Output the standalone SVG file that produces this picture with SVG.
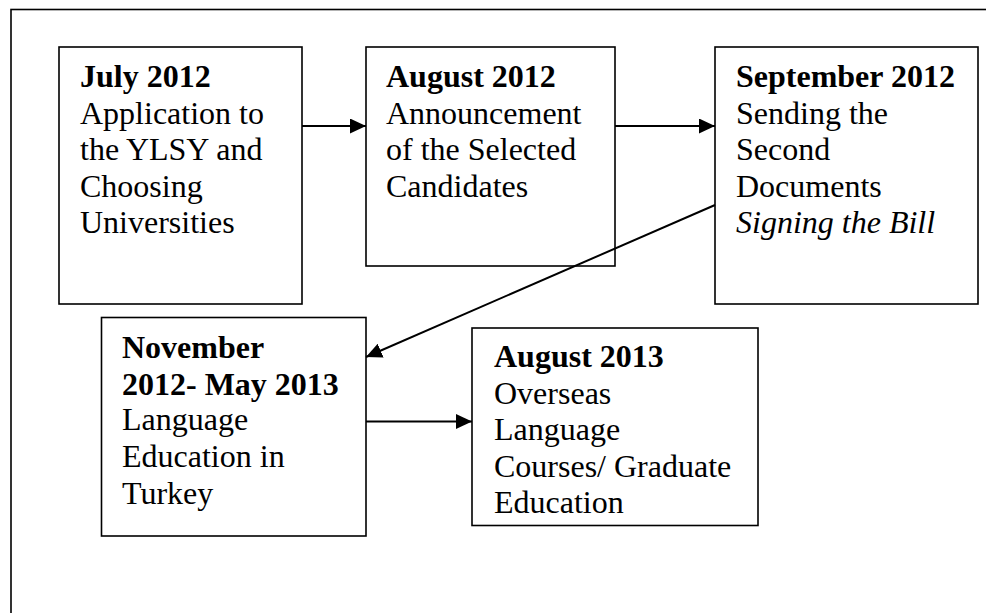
<svg xmlns="http://www.w3.org/2000/svg" width="986" height="613" viewBox="0 0 986 613">
<style>
.box{fill:#fff;stroke:#000;stroke-width:1.6}
.t{font-family:"Liberation Serif","Times New Roman",serif;font-size:32px;fill:#000}
.b{font-weight:bold}
.i{font-style:italic}
.c{stroke:#000;stroke-width:2;fill:none}
</style>
<defs>
<marker id="ah" viewBox="0 0 16 15" refX="16" refY="7.5" markerWidth="16" markerHeight="15" markerUnits="userSpaceOnUse" orient="auto">
<path d="M0,0 L16,7.5 L0,15 z" fill="#000"/>
</marker>
</defs>
<rect width="986" height="613" fill="#fff"/>
<rect x="11" y="9.5" width="990" height="700" fill="none" stroke="#000" stroke-width="1.6"/>
<g id="n1">
<rect class="box" x="59" y="47" width="243" height="257"/>
<text class="t"><tspan class="b" x="80" y="87">July 2012</tspan><tspan x="80" y="123.5">Application to</tspan><tspan x="80" y="160">the YLSY and</tspan><tspan x="80" y="196.5">Choosing</tspan><tspan x="80" y="233">Universities</tspan></text>
</g>
<g id="n2">
<rect class="box" x="366" y="47" width="249" height="219"/>
<text class="t"><tspan class="b" x="386" y="87">August 2012</tspan><tspan x="386" y="123.5">Announcement</tspan><tspan x="386" y="160">of the Selected</tspan><tspan x="386" y="196.5">Candidates</tspan></text>
</g>
<g id="n3">
<rect class="box" x="715" y="47" width="263" height="257"/>
<text class="t"><tspan class="b" x="736" y="87">September 2012</tspan><tspan x="736" y="123.5">Sending the</tspan><tspan x="736" y="160">Second</tspan><tspan x="736" y="196.5">Documents</tspan><tspan class="i" x="736" y="233">Signing the Bill</tspan></text>
</g>
<g id="n4">
<rect class="box" x="101.5" y="317.5" width="264.5" height="218.5"/>
<text class="t"><tspan class="b" x="122" y="358">November</tspan><tspan class="b" x="122" y="394.5">2012- May 2013</tspan><tspan x="122" y="430">Language</tspan><tspan x="122" y="467">Education in</tspan><tspan x="122" y="503.5">Turkey</tspan></text>
</g>
<g id="n5">
<rect class="box" x="472" y="328" width="286" height="197.5"/>
<text class="t"><tspan class="b" x="494" y="367">August 2013</tspan><tspan x="494" y="403.5">Overseas</tspan><tspan x="494" y="440">Language</tspan><tspan x="494" y="476.5">Courses/ Graduate</tspan><tspan x="494" y="513">Education</tspan></text>
</g>
<g id="connectors">
<line class="c" x1="302" y1="126" x2="366" y2="126" marker-end="url(#ah)"/>
<line class="c" x1="615" y1="126" x2="715" y2="126" marker-end="url(#ah)"/>
<line class="c" x1="715" y1="205" x2="366" y2="357" marker-end="url(#ah)"/>
<line class="c" x1="366" y1="421.5" x2="472" y2="421.5" marker-end="url(#ah)"/>
</g>
</svg>
